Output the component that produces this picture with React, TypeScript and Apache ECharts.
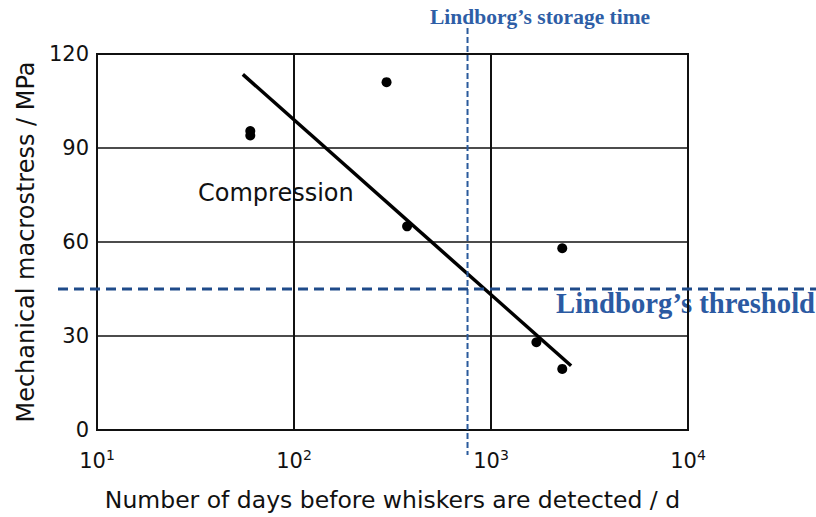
import React, { useEffect, useRef } from "react";
import * as echarts from "echarts";

const xTickValues = [10, 100, 1000, 10000];
const yTickValues = [0, 30, 60, 90, 120];
const pointsDays = [60, 60, 295, 375, 2300, 1700, 2300];
const pointsStress = [94, 95.4, 111, 65, 58, 28, 19.5];
const trendDays = [55, 2550];
const trendStress = [113.5, 20.5];
const storageTimeDays = 760;
const thresholdStress = 45;

const sans = "DejaVu Sans";
const serif = "Liberation Serif";

export default function App() {
  const ref = useRef<HTMLDivElement>(null);
  useEffect(() => {
    if (!ref.current) return;
    const chart = echarts.init(ref.current, null, { renderer: "svg" });
    const expOf: Record<number, string> = {};
    xTickValues.forEach((v) => (expOf[v] = String(Math.round(Math.log10(v)))));
    chart.setOption({
      animation: false,
      backgroundColor: "#ffffff",
      grid: {
        left: 97,
        right: 128,
        top: 54,
        bottom: 85,
        show: true,
        borderColor: "#111",
        borderWidth: 2,
      },
      xAxis: {
        type: "log",
        logBase: 10,
        min: 10,
        max: 10000,
        name: "Number of days before whiskers are detected / d",
        nameLocation: "middle",
        nameGap: 58,
        nameTextStyle: { fontFamily: sans, fontSize: 23.5, color: "#111" },
        axisLine: { show: true, lineStyle: { color: "#111", width: 2 } },
        axisTick: { show: false },
        splitLine: { show: true, lineStyle: { color: "#111", width: 2 } },
        axisLabel: {
          margin: 18,
          formatter: (v: number) => `10{s|${expOf[v] ?? Math.round(Math.log10(v))}}`,
          fontFamily: sans,
          fontSize: 21,
          color: "#111",
          rich: {
            s: { fontFamily: sans, fontSize: 14, color: "#111", verticalAlign: "top", padding: [0, 0, 12, 0] },
          },
        },
      },
      yAxis: {
        type: "value",
        min: 0,
        max: 120,
        interval: 30,
        name: "Mechanical macrostress / MPa",
        nameLocation: "middle",
        nameGap: 58,
        nameTextStyle: { fontFamily: sans, fontSize: 24, color: "#111" },
        axisLine: { show: true, lineStyle: { color: "#111", width: 2 } },
        axisTick: { show: false },
        splitLine: { show: true, lineStyle: { color: "#111", width: 1.5 } },
        axisLabel: {
          margin: 8,
          fontFamily: sans,
          fontSize: 21,
          color: "#111",
          formatter: (v: number) => (yTickValues.includes(v) ? String(v) : ""),
        },
      },
      series: [
        {
          type: "line",
          data: trendDays.map((d, i) => [d, trendStress[i]]),
          showSymbol: false,
          symbol: "none",
          lineStyle: { color: "#000", width: 3.5 },
          silent: true,
          z: 3,
        },
        {
          type: "scatter",
          data: pointsDays.map((d, i) => [d, pointsStress[i]]),
          symbolSize: 10,
          itemStyle: { color: "#000", opacity: 1 },
          silent: true,
          z: 4,
        },
        {
          type: "custom",
          coordinateSystem: "cartesian2d",
          clip: false,
          silent: true,
          z: 5,
          data: [[storageTimeDays, thresholdStress]],
          renderItem: (params: any, api: any) => {
            const p = api.coord([api.value(0), api.value(1)]);
            const cs = params.coordSys;
            return {
              type: "group",
              children: [
                {
                  type: "line",
                  shape: { x1: p[0], y1: cs.y - 26, x2: p[0], y2: cs.y + cs.height + 25 },
                  style: { stroke: "#2a5a9c", lineWidth: 2, lineDash: [6, 3] },
                },
                {
                  type: "line",
                  shape: { x1: 58, y1: p[1], x2: api.getWidth(), y2: p[1] },
                  style: { stroke: "#1f4b8a", lineWidth: 3, lineDash: [10, 6] },
                },
              ],
            };
          },
        },
      ],
      graphic: [
        {
          type: "text",
          left: 430,
          top: 6,
          style: {
            text: "Lindborg’s storage time",
            fontFamily: serif,
            fontWeight: "bold",
            fontSize: 21.5,
            fill: "#2e5ea6",
          },
        },
        {
          type: "text",
          left: 556,
          top: 288,
          style: {
            text: "Lindborg’s threshold",
            fontFamily: serif,
            fontWeight: "bold",
            fontSize: 28.7,
            fill: "#2b5aa2",
          },
        },
        {
          type: "text",
          left: 198,
          top: 181,
          style: {
            text: "Compression",
            fontFamily: sans,
            fontSize: 24,
            fill: "#111",
          },
        },
      ],
    });
    return () => chart.dispose();
  }, []);
  return (
    <div
      ref={ref}
      style={{ position: "fixed", left: 0, top: 0, width: 816, height: 517, background: "#fff" }}
    />
  );
}
